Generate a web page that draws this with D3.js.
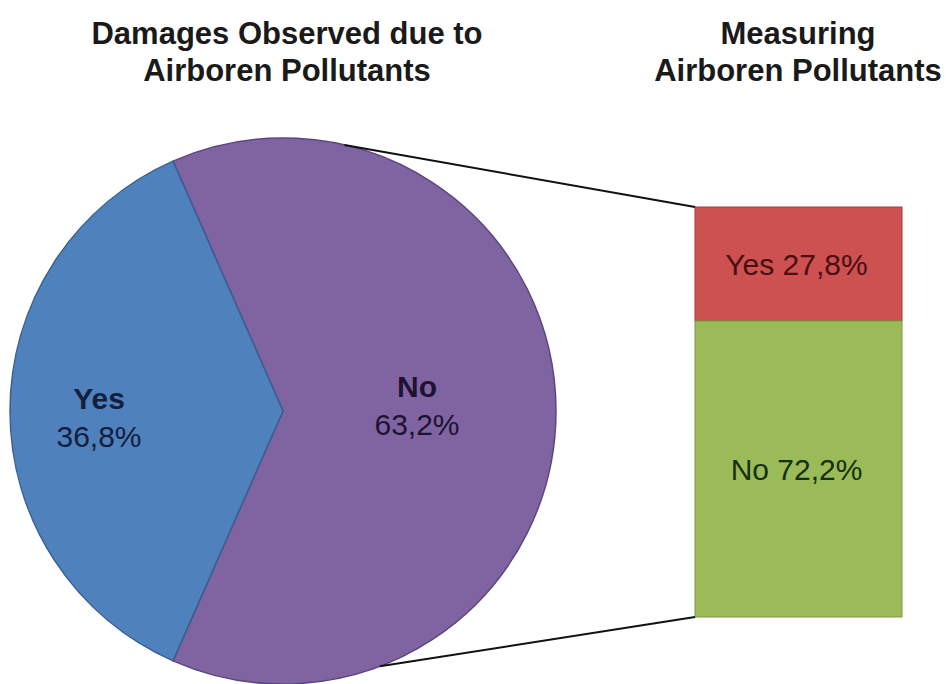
<!DOCTYPE html>
<html>
<head>
<meta charset="utf-8">
<script src="https://cdn.jsdelivr.net/npm/d3@7"></script>
<style>
  html, body { margin: 0; padding: 0; background: #ffffff; }
  svg { display: block; font-family: "Liberation Sans", Arial, sans-serif; }
</style>
</head>
<body>
<svg id="chart" width="949" height="684"></svg>
<script>
// Pie: damages observed due to airborne pollutants
const pieCategories = ["No", "Yes"];
const pieValues = [63.2, 36.8];
const pieLabels = ["63,2%", "36,8%"];

// Bar: share of respondents measuring airborne pollutants
const barCategories = ["Yes", "No"];
const barValues = [27.8, 72.2];
const barLabels = ["Yes 27,8%", "No 72,2%"];

const titles = {
  pie: ["Damages Observed due to", "Airboren Pollutants"],
  bar: ["Measuring", "Airboren Pollutants"]
};

const svg = d3.select("#chart");

const pieColors = { No: "#8064a2", Yes: "#4f81bd" };
const pieStroke = { No: "#5b4780", Yes: "#3a5f8f" };
const pieText = { No: "#1e1233", Yes: "#13203d" };
const barColors = { Yes: "#cd5151", No: "#9bbb59" };
const barStroke = { Yes: "#a13f3d", No: "#7d9a45" };
const barText = { Yes: "#4a0f10", No: "#16300a" };

// ---- Titles
function drawTitle(lines, x) {
  const t = svg.append("text")
    .attr("text-anchor", "middle")
    .attr("font-weight", "bold")
    .attr("font-size", 31)
    .attr("fill", "#1a1a1a");
  lines.forEach((line, i) => {
    t.append("tspan").attr("x", x).attr("y", 44 + i * 37).text(line);
  });
}
drawTitle(titles.pie, 287);
drawTitle(titles.bar, 798);

// ---- Pie
const cx = 283, cy = 411, r = 273;
const total = d3.sum(pieValues);
const yesAngle = (pieValues[1] / total) * 2 * Math.PI;
// centre the "Yes" slice on the left side (west)
const start = 1.5 * Math.PI + yesAngle / 2 - 2 * Math.PI;

const pie = d3.pie().sort(null).value(d => d.value)
  .startAngle(start).endAngle(start + 2 * Math.PI);
const arcs = pie(pieCategories.map((c, i) => ({ cat: c, value: pieValues[i], label: pieLabels[i] })));
const arc = d3.arc().innerRadius(0).outerRadius(r);

const gPie = svg.append("g").attr("transform", `translate(${cx},${cy})`);
gPie.selectAll("path").data(arcs).join("path")
  .attr("d", arc)
  .attr("fill", d => pieColors[d.data.cat])
  .attr("stroke", d => pieStroke[d.data.cat])
  .attr("stroke-width", 1.5)
  .attr("stroke-linejoin", "round");

// label positions inside slices
const labelPos = { Yes: [-184, 0], No: [134, -12] };
arcs.forEach(d => {
  const [lx, ly] = labelPos[d.data.cat];
  const t = gPie.append("text")
    .attr("text-anchor", "middle")
    .attr("font-size", 30)
    .attr("fill", pieText[d.data.cat]);
  t.append("tspan").attr("x", lx).attr("y", ly - 2).attr("font-weight", "bold").text(d.data.cat);
  t.append("tspan").attr("x", lx).attr("y", ly + 36).text(d.data.label);
});

// ---- Stacked bar
const barX = 695, barW = 207, barTop = 207, barBottom = 617;
const y = d3.scaleLinear().domain([0, d3.sum(barValues)]).range([barTop, barBottom]);
let acc = 0;
const barData = barCategories.map((c, i) => {
  const d = { cat: c, y0: acc, y1: acc + barValues[i], label: barLabels[i] };
  acc += barValues[i];
  return d;
});

const gBar = svg.append("g");
gBar.selectAll("rect").data(barData).join("rect")
  .attr("x", barX)
  .attr("y", d => y(d.y0))
  .attr("width", barW)
  .attr("height", d => y(d.y1) - y(d.y0))
  .attr("fill", d => barColors[d.cat])
  .attr("stroke", d => barStroke[d.cat])
  .attr("stroke-width", 1);

gBar.selectAll("text").data(barData).join("text")
  .attr("x", barX + barW / 2 - 2)
  .attr("y", d => (y(d.y0) + y(d.y1)) / 2 + 11)
  .attr("text-anchor", "middle")
  .attr("font-size", 30)
  .attr("fill", d => barText[d.cat])
  .text(d => d.label);

// ---- Connector lines from the pie edge to the bar corners
const topA = 13 * Math.PI / 180;
const botA = 159.2 * Math.PI / 180;
const edge = a => [cx + r * Math.sin(a), cy - r * Math.cos(a)];
const connectors = [
  [edge(topA), [barX, barTop]],
  [edge(botA), [barX, barBottom]]
];
svg.selectAll("line.conn").data(connectors).join("line")
  .attr("class", "conn")
  .attr("x1", d => d[0][0]).attr("y1", d => d[0][1])
  .attr("x2", d => d[1][0]).attr("y2", d => d[1][1])
  .attr("stroke", "#111")
  .attr("stroke-width", 2);
</script>
</body>
</html>
